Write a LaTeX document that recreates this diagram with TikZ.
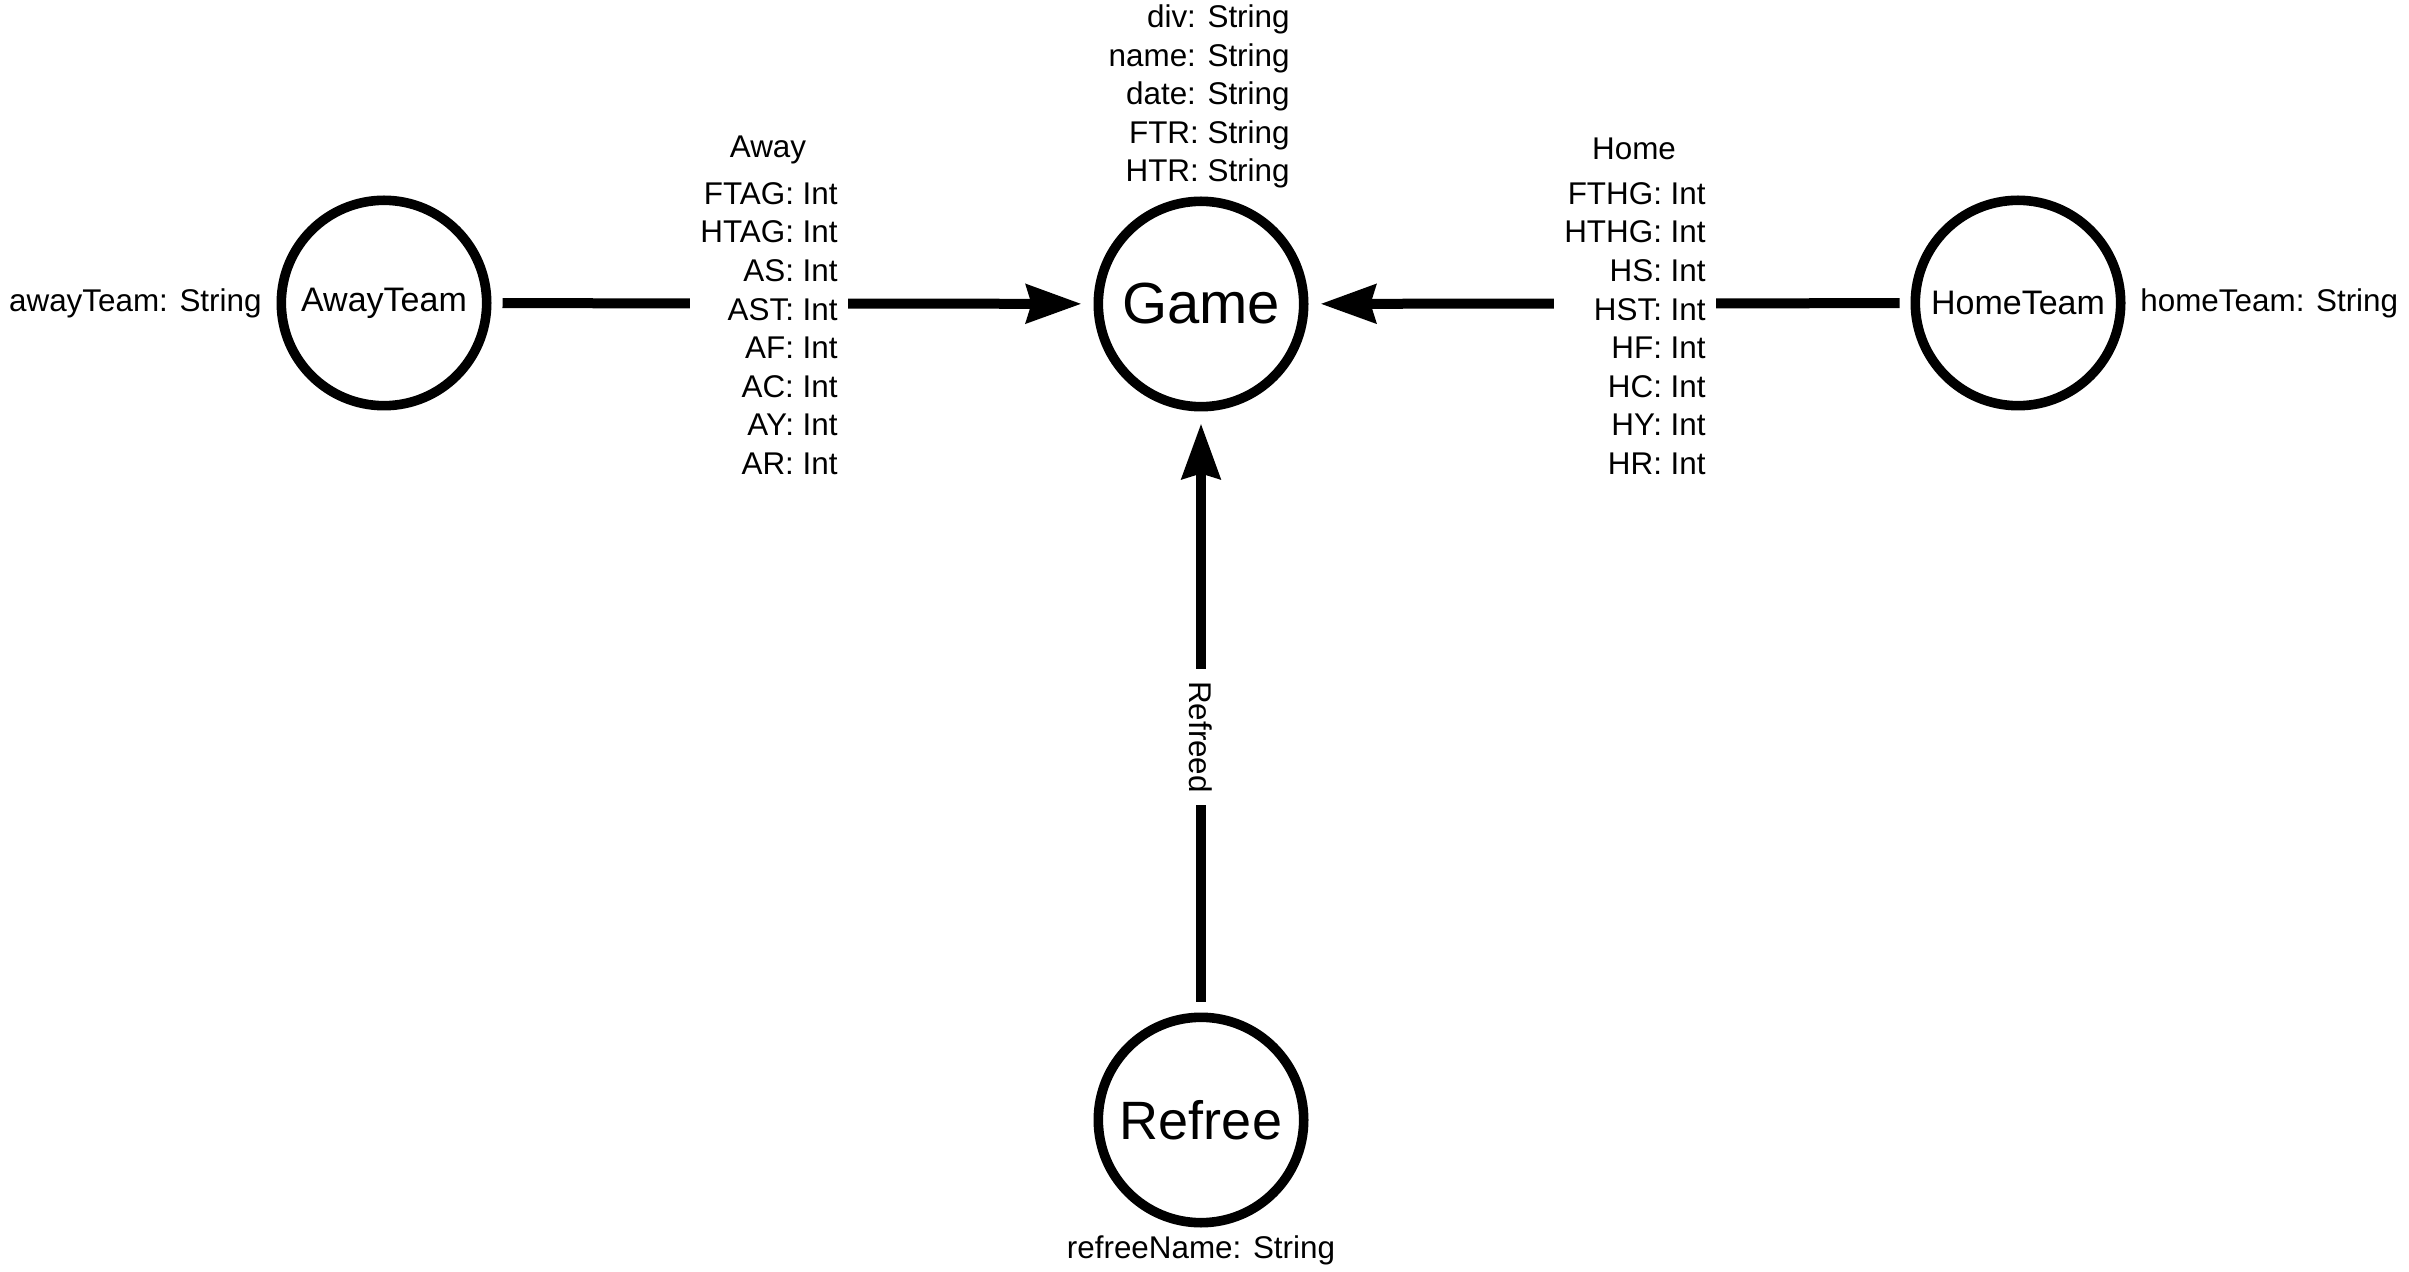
\documentclass[tikz,border=0pt]{standalone}
\usepackage{fontspec}
\setmainfont{Liberation Sans}
\usetikzlibrary{arrows.meta}
\begin{document}
\begin{tikzpicture}[x=0.5pt,y=-0.5pt,
  entity/.style={circle, draw, line width=4.8pt, minimum size=102.7pt, inner sep=0pt},
  bigtxt/.style={font=\fontsize{29pt}{34pt}\selectfont},
  reftxt/.style={font=\fontsize{27pt}{32pt}\selectfont},
  midtxt/.style={font=\fontsize{17pt}{20pt}\selectfont},
  attr/.style={font=\fontsize{15.7pt}{19.3pt}\selectfont, inner sep=0pt},
  attrbox/.style={attr, align=right, fill=white, inner xsep=5pt, inner ysep=0pt},
  conn/.style={line width=5pt, -{Stealth[length=27.5pt, width=19pt, inset=2.5pt]}, shorten >=6pt, shorten <=5.5pt}
]
\fill[white] (0,0) rectangle (2409,1272);
\useasboundingbox (0,0) rectangle (2409,1272);

% entities
\node[entity, bigtxt] (game) at (1201,304) {Game};
\node[entity, reftxt] (ref) at (1201,1120) {Refree};
\node[entity, midtxt] (away) at (384,303) {AwayTeam};
\node[entity, midtxt] (home) at (2018,303) {HomeTeam};

% connectors
\draw[conn] (away) -- (game);
\draw[conn] (home) -- (game);
\draw[conn] (ref) -- (game);

% connector labels
\node[attr] (awaytitle) at (768,150) {Away};
\node[attrbox, anchor=east] (awayattrs) at (848,328.5) {FTAG: Int\\HTAG: Int\\AS: Int\\AST: Int\\AF: Int\\AC: Int\\AY: Int\\AR: Int};
\node[attr] (hometitle) at (1634,149) {Home};
\node[attrbox, anchor=east] (homeattrs) at (1716,328.5) {FTHG: Int\\HTHG: Int\\HS: Int\\HST: Int\\HF: Int\\HC: Int\\HY: Int\\HR: Int};
\node[attr, fill=white, rotate=-90, inner xsep=6pt] (refreed) at (1201,737) {Refreed};

% entity attributes
\node[attr, align=right, anchor=east] (gameattrs) at (1290,96.5) {div: String\\name: String\\date: String\\FTR: String\\HTR: String};
\node[attr, anchor=east] (awayname) at (262,303) {awayTeam: String};
\node[attr, anchor=west] (homename) at (2140,303) {homeTeam: String};
\node[attr] (refname) at (1201,1250) {refreeName: String};
\end{tikzpicture}
\end{document}
